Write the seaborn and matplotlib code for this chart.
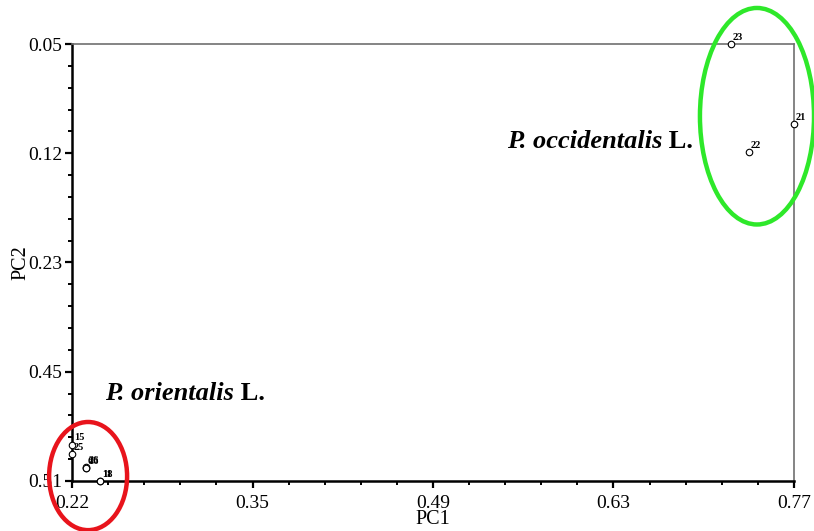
import numpy as np
import pandas as pd
import matplotlib
matplotlib.use("Agg")
import matplotlib.pyplot as plt
from matplotlib.ticker import AutoMinorLocator, FixedLocator
from matplotlib.patches import Ellipse
import seaborn as sns

# ---- data ----
pc1_ticks = [0.22, 0.35, 0.49, 0.63, 0.77]
pc2_ticks = [0.05, 0.12, 0.23, 0.45, 0.51]
pc1_tick_labels = ["0.22", "0.35", "0.49", "0.63", "0.77"]
pc2_tick_labels = ["0.05", "0.12", "0.23", "0.45", "0.51"]

sample_ids = ["21", "22", "23", "25", "15", "16", "26", "6", "11", "18"]
pc1_values = [0.770, 0.735, 0.721, 0.220, 0.220, 0.2301, 0.2303, 0.2300, 0.2402, 0.2404]
pc2_values = [0.101, 0.119, 0.050, 0.495, 0.490, 0.5029, 0.5025, 0.5031, 0.510, 0.510]
species = ["P. occidentalis", "P. occidentalis", "P. occidentalis",
           "P. orientalis", "P. orientalis", "P. orientalis", "P. orientalis",
           "P. orientalis", "P. orientalis", "P. orientalis"]

# axis positions follow the evenly spaced tick labels of the original
pos1 = np.interp(pc1_values, pc1_ticks, np.arange(len(pc1_ticks)))
pos2 = np.interp(pc2_values, pc2_ticks, np.arange(len(pc2_ticks)))
df = pd.DataFrame({"id": sample_ids, "PC1": pos1, "PC2": pos2, "species": species})

sns.set_style("ticks")
plt.rcParams["font.family"] = ["Liberation Serif", "DejaVu Serif"]
plt.rcParams["text.color"] = "black"
plt.rcParams["axes.labelcolor"] = "black"
plt.rcParams["xtick.color"] = "black"
plt.rcParams["ytick.color"] = "black"

fig = plt.figure(figsize=(8.14, 5.31), dpi=100)
ax = fig.add_axes([0.0885, 0.0942, 0.8869, 0.8229])

sns.scatterplot(data=df, x="PC1", y="PC2", ax=ax, s=22, marker="o",
                facecolor="white", edgecolor="black", linewidth=0.8,
                legend=False, zorder=5, clip_on=False)

for _, r in df.iterrows():
    ax.annotate(r["id"], (r["PC1"], r["PC2"]), xytext=(1.5, 1.5),
                textcoords="offset points", fontsize=7.5, fontweight="bold",
                color="black", ha="left", va="bottom", zorder=6,
                annotation_clip=False)

ax.set_xlim(0, 4)
ax.set_ylim(4, 0)
ax.xaxis.set_major_locator(FixedLocator(range(5)))
ax.yaxis.set_major_locator(FixedLocator(range(5)))
ax.set_xticklabels(pc1_tick_labels)
ax.set_yticklabels(pc2_tick_labels)
ax.xaxis.set_minor_locator(AutoMinorLocator(5))
ax.yaxis.set_minor_locator(AutoMinorLocator(5))
ax.tick_params(axis="both", which="major", direction="out", length=5, width=1.6,
               labelsize=14, colors="black")
ax.tick_params(axis="x", which="major", pad=5)
ax.tick_params(axis="y", which="major", pad=2)
ax.tick_params(axis="both", which="minor", direction="out", length=3, width=1.4)

for s in ["left", "bottom"]:
    ax.spines[s].set_color("black")
    ax.spines[s].set_linewidth(1.8)
for s in ["top", "right"]:
    ax.spines[s].set_visible(True)
    ax.spines[s].set_color("#707070")
    ax.spines[s].set_linewidth(1.2)

ax.set_xlabel("PC1", fontsize=14.5, labelpad=-1)
ax.set_ylabel("PC2", fontsize=14.5, labelpad=-2)

# group outlines
ax.add_patch(Ellipse((0.089, 3.955), 0.432, 0.99, fill=False,
                     edgecolor="#e8141c", linewidth=3.2, clip_on=False, zorder=7))
ax.add_patch(Ellipse((3.795, 0.661), 0.632, 1.982, fill=False,
                     edgecolor="#2ee82a", linewidth=3.2, clip_on=False, zorder=7))

# species labels
t1 = ax.text(0.6025, 0.762, "P. occidentalis", transform=ax.transAxes,
             fontsize=19, fontweight="bold", fontstyle="italic", color="black",
             va="baseline", ha="left")
ax.annotate(" L.", xy=(1, 0), xycoords=t1, va="bottom", ha="left",
            fontsize=19, fontweight="bold", color="black")
t2 = ax.text(0.0457, 0.1854, "P. orientalis", transform=ax.transAxes,
             fontsize=19, fontweight="bold", fontstyle="italic", color="black",
             va="baseline", ha="left")
ax.annotate(" L.", xy=(1, 0), xycoords=t2, va="bottom", ha="left",
            fontsize=19, fontweight="bold", color="black")

fig.savefig("out.png", dpi=100)
